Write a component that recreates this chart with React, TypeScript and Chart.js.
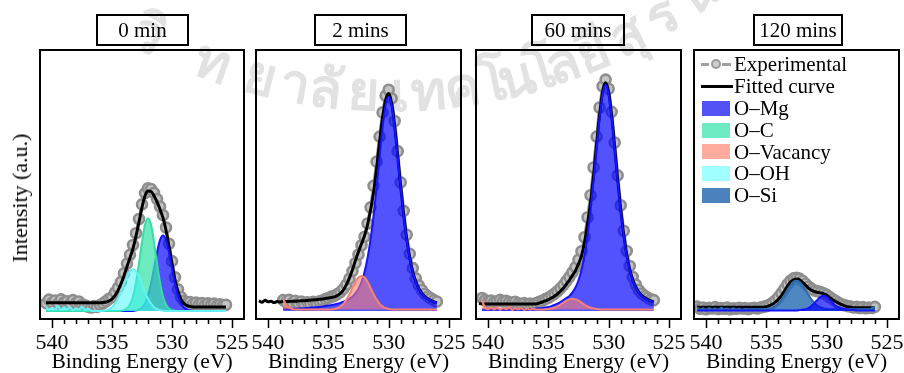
import React, { useEffect, useRef } from "react";
import { Chart, registerables } from "chart.js";

Chart.register(...registerables);

const SERIF = '"Liberation Serif", "Times New Roman", serif';
const _ = null;

// Binding energy grid (eV), shared by all panels
const ENERGY = [
  540.75, 540.5, 540.25, 540.0, 539.75, 539.5, 539.25, 539.0, 538.75, 538.5,
  538.25, 538.0, 537.75, 537.5, 537.25, 537.0, 536.75, 536.5, 536.25, 536.0,
  535.75, 535.5, 535.25, 535.0, 534.75, 534.5, 534.25, 534.0, 533.75, 533.5,
  533.25, 533.0, 532.75, 532.5, 532.25, 532.0, 531.75, 531.5, 531.25, 531.0,
  530.75, 530.5, 530.25, 530.0, 529.75, 529.5, 529.25, 529.0, 528.75, 528.5,
  528.25, 528.0, 527.75, 527.5, 527.25, 527.0, 526.75, 526.5, 526.25, 526.0,
  525.75, 525.5,
];
const X_TICK_LABELS = [540, 535, 530, 525];
const X_MINOR_TICKS = [540, 539, 538, 537, 536, 535, 534, 533, 532, 531, 530, 529, 528, 527, 526, 525];
const PANEL_TITLES = ["0 min", "2 mins", "60 mins", "120 mins"];
const LEGEND_LABELS = ["Experimental", "Fitted curve", "O\u2013Mg", "O\u2013C", "O\u2013Vacancy", "O\u2013OH", "O\u2013Si"];

// ---------- 0 min ----------
const P1_EXP = [
  _, 5.9, 7.2, 6.1, 6.9, 5.8, 7.3, 6.2, 6.6, 5.7,
  7.0, 6.0, 6.5, 5.4, 5.1, 4.6, 4.3, 4.8, 4.5, 5.2,
  5.8, 6.6, 7.5, 8.1, 9.9, 11.6, 13.8, 17.0, 20.6, 23.9,
  27.5, 31.9, 37.2, 42.6, 46.8, 48.6, 48.3, 46.9, 44.6, 41.8,
  38.6, 34.0, 28.0, 21.5, 15.5, 11.0, 8.2, 6.8, 6.1, 6.3,
  5.6, 6.1, 5.4, 5.9, 5.2, 5.8, 5.3, 5.7, 5.0, 5.5,
  5.1, 5.3,
];
const P1_FIT = [
  _, 6.0, 6.0, 6.0, 6.0, 6.0, 6.0, 6.0, 6.0, 6.0,
  6.0, 6.0, 6.0, 6.0, 6.0, 6.0, 6.0, 6.0, 6.0, 6.0,
  6.1, 6.3, 6.7, 7.4, 8.7, 10.6, 13.1, 16.1, 19.5, 22.8,
  26.2, 30.8, 36.0, 41.5, 45.8, 47.6, 47.4, 45.8, 43.5, 40.8,
  37.6, 33.0, 27.0, 20.6, 14.6, 10.2, 7.3, 5.7, 5.0, 4.7,
  4.5, 4.5, 4.5, 4.5, 4.5, 4.5, 4.5, 4.5, 4.5, 4.5,
  4.5, 4.5,
];
const P1_MG = [
  _, 3.0, 3.0, 3.0, 3.0, 3.0, 3.0, 3.0, 3.0, 3.0,
  3.0, 3.0, 3.0, 3.0, 3.0, 3.0, 3.0, 3.0, 3.0, 3.0,
  3.0, 3.0, 3.0, 3.0, 3.0, 3.0, 3.0, 3.0, 3.0, 3.0,
  3.0, 3.2, 3.5, 4.2, 5.8, 8.7, 13.1, 18.8, 24.7, 29.3,
  31.0, 29.3, 24.7, 18.8, 13.1, 8.7, 5.8, 4.2, 3.5, 3.2,
  3.0, 3.0, 3.0, 3.0, 3.0, 3.0, 3.0, 3.0, 3.0, 3.0,
  3.0, 3.0,
];
const P1_C = [
  _, 3.0, 3.0, 3.0, 3.0, 3.0, 3.0, 3.0, 3.0, 3.0,
  3.0, 3.0, 3.0, 3.0, 3.0, 3.0, 3.0, 3.0, 3.0, 3.0,
  3.0, 3.0, 3.0, 3.0, 3.0, 3.0, 3.1, 3.3, 3.9, 5.4,
  8.4, 13.6, 20.7, 28.7, 35.1, 37.5, 35.1, 28.7, 20.7, 13.6,
  8.4, 5.4, 3.9, 3.3, 3.1, 3.0, 3.0, 3.0, 3.0, 3.0,
  3.0, 3.0, 3.0, 3.0, 3.0, 3.0, 3.0, 3.0, 3.0, 3.0,
  3.0, 3.0,
];
const P1_OH = [
  _, 4.6, 3.4, 4.2, 3.6, 4.8, 3.3, 4.5, 3.6, 4.4,
  3.2, 4.0, 3.5, 4.6, 3.4, 3.8, 3.1, 3.0, 3.0, 3.0,
  3.1, 3.3, 3.7, 4.4, 5.7, 7.6, 10.1, 13.0, 15.8, 17.8,
  18.5, 17.8, 15.8, 13.0, 10.1, 7.6, 5.7, 4.4, 3.7, 3.3,
  3.1, 3.0, 3.0, 3.0, 3.0, 3.0, 3.0, 3.0, 3.0, 3.0,
  3.0, 3.0, 3.0, 3.0, 3.0, 3.0, 3.0, 3.0, 3.0, 3.0,
  3.0, 3.0,
];

// ---------- 2 mins ----------
const P2_EXP = [
  _, _, _, _, _, _, _, _, 7.0, 6.2,
  7.1, 6.0, 6.8, 5.9, 6.5, 5.6, 6.2, 5.8, 6.4, 6.0,
  6.6, 6.9, 7.4, 7.8, 8.3, 8.6, 9.3, 10.0, 11.2, 12.8,
  15.0, 17.8, 20.8, 24.0, 27.4, 30.6, 35.5, 41.5, 49.5, 58.5,
  67.8, 76.8, 83.0, 85.2, 82.0, 73.6, 62.4, 50.8, 40.2, 31.3,
  24.2, 18.9, 15.1, 12.5, 10.8, 9.4, 8.4, 7.7, 7.0, 6.5,
  _, _,
];
const P2_FIT = [
  6.8, 6.2, 7.0, 6.4, 6.6, 6.1, 6.5, 6.3, 6.6, 6.5,
  6.5, 6.6, 6.6, 6.7, 6.8, 6.8, 6.9, 7.0, 7.1, 7.2,
  7.3, 7.4, 7.6, 7.8, 8.0, 8.2, 8.75, 9.55, 10.85, 12.8,
  15.3, 18.35, 21.8, 25.0, 28.0, 31.0, 35.0, 40.5, 47.0, 56.0,
  66.0, 75.0, 81.5, 83.8, 80.2, 71.8, 60.7, 49.2, 38.7, 29.8,
  22.9, 17.6, 13.9, 11.4, 9.6, 8.3, 7.5, 6.9, 6.4, 6.0,
  _, _,
];
const P2_MG = [
  _, _, _, _, _, _, _, _, 3.7, 3.7,
  3.7, 3.8, 3.8, 3.9, 4.0, 4.0, 4.1, 4.2, 4.3, 4.4,
  4.5, 4.6, 4.8, 5.0, 5.2, 5.4, 5.7, 6.0, 6.4, 6.9,
  7.5, 8.3, 9.6, 11.3, 13.8, 17.5, 22.7, 29.6, 38.4, 48.9,
  60.3, 71.3, 79.5, 82.6, 79.5, 71.3, 60.3, 48.9, 38.4, 29.6,
  22.7, 17.5, 13.8, 11.3, 9.6, 8.3, 7.5, 6.9, 6.4, 6.0,
  _, _,
];
const P2_VAC = [
  _, _, _, _, _, _, _, _, 7.5, 5.2,
  4.3, 3.8, 3.5, 3.5, 3.5, 3.5, 3.5, 3.5, 3.5, 3.5,
  3.5, 3.5, 3.5, 3.5, 3.6, 3.75, 4.05, 4.65, 5.65, 7.2,
  9.2, 11.55, 13.8, 15.4, 16.0, 15.4, 13.8, 11.55, 9.2, 7.2,
  5.65, 4.65, 4.05, 3.75, 3.6, 3.5, 3.5, 3.5, 3.5, 3.5,
  3.5, 3.5, 3.5, 3.5, 3.5, 3.5, 3.5, 3.5, 3.5, 3.5,
  _, _,
];

// ---------- 60 mins ----------
const P3_EXP = [
  _, 7.8, 7.0, 6.4, 6.9, 6.2, 6.6, 7.1, 6.5, 6.8,
  6.2, 6.0, 6.4, 5.8, 5.6, 5.9, 5.4, 5.7, 5.5, 5.9,
  6.4, 6.8, 7.4, 7.9, 8.6, 9.4, 10.3, 11.4, 12.6, 14.1,
  15.6, 17.4, 19.3, 22.0, 25.2, 30.4, 37.8, 46.0, 56.3, 67.8,
  78.6, 86.5, 89.0, 85.6, 77.0, 65.6, 53.4, 42.3, 32.8, 25.3,
  19.7, 15.6, 12.8, 10.8, 9.5, 8.6, 7.9, 7.3, 7.0, _,
  _, _,
];
const P3_FIT = [
  5.8, 5.6, 5.6, 5.6, 5.6, 5.6, 5.6, 5.6, 5.6, 5.6,
  5.6, 5.6, 5.6, 5.6, 5.6, 5.6, 5.6, 5.6, 5.6, 5.6,
  6.0, 6.3, 6.7, 7.2, 7.8, 8.5, 9.3, 10.3, 11.5, 13.0,
  14.5, 16.2, 18.0, 20.5, 23.5, 28.5, 35.5, 43.5, 53.5, 65.0,
  76.1, 84.6, 87.8, 84.4, 75.6, 64.0, 51.8, 40.8, 31.4, 24.0,
  18.5, 14.6, 11.9, 10.0, 8.7, 7.9, 7.2, 6.7, 6.3, _,
  _, _,
];
const P3_MG = [
  _, 3.5, 3.5, 3.5, 3.5, 3.5, 3.5, 3.5, 3.5, 3.5,
  3.5, 3.5, 3.5, 3.5, 3.5, 3.6, 3.7, 3.7, 3.8, 3.9,
  4.0, 4.1, 4.3, 4.5, 4.8, 5.2, 5.7, 6.3, 7.0, 7.8,
  8.6, 9.9, 11.7, 14.4, 18.3, 23.7, 31.1, 40.4, 51.4, 63.5,
  75.0, 83.7, 87.0, 83.7, 75.0, 63.5, 51.4, 40.4, 31.1, 23.7,
  18.3, 14.4, 11.7, 9.9, 8.6, 7.8, 7.1, 6.6, 6.2, _,
  _, _,
];
const P3_VAC = [
  _, 7.0, 4.2, 3.6, 4.4, 3.5, 4.3, 3.4, 4.2, 3.6,
  4.5, 3.3, 4.1, 3.6, 4.0, 3.4, 3.9, 3.5, 3.8, 3.5,
  3.5, 3.5, 3.6, 3.7, 3.9, 4.2, 4.7, 5.3, 6.1, 6.8,
  7.3, 7.5, 7.3, 6.8, 6.1, 5.3, 4.7, 4.2, 3.9, 3.7,
  3.6, 3.5, 3.5, 3.5, 3.5, 3.5, 3.5, 3.5, 3.5, 3.5,
  3.5, 3.5, 3.5, 3.5, 3.5, 3.5, 3.5, 3.5, 3.5, _,
  _, _,
];

// ---------- 120 mins ----------
const P4_EXP = [
  4.6, 3.8, 4.3, 3.6, 4.2, 3.9, 4.4, 3.7, 4.1, 3.8,
  4.3, 3.6, 4.0, 3.8, 4.2, 3.9, 4.1, 3.7, 4.0, 4.2,
  3.9, 4.3, 4.5, 4.8, 5.3, 6.0, 6.9, 8.1, 9.6, 11.2,
  12.9, 14.2, 15.1, 15.3, 15.0, 14.2, 13.1, 12.1, 11.2, 10.6,
  10.3, 10.0, 9.6, 9.0, 8.2, 7.4, 6.7, 6.0, 5.5, 5.1,
  4.8, 4.6, 4.3, 4.5, 4.1, 4.4, 4.0, 4.3, 4.1, 4.5,
  _, _,
];
const P4_FIT = [
  4.4, 4.4, 4.4, 4.4, 4.4, 4.4, 4.4, 4.4, 4.4, 4.4,
  4.4, 4.4, 4.4, 4.4, 4.4, 4.4, 4.4, 4.4, 4.4, 4.4,
  4.4, 4.4, 4.4, 4.6, 5.0, 5.5, 6.3, 7.3, 8.7, 10.4,
  12.2, 13.7, 14.6, 14.9, 14.6, 13.6, 12.5, 11.5, 10.7, 10.2,
  9.9, 9.7, 9.4, 8.8, 8.0, 7.2, 6.5, 5.9, 5.3, 4.9,
  4.6, 4.4, 4.2, 4.2, 4.2, 4.2, 4.2, 4.2, 4.2, 4.2,
  _, _,
];
const P4_SI = [
  4.4, 3.4, 4.0, 3.2, 4.1, 3.5, 3.9, 3.3, 4.2, 3.6,
  3.9, 3.4, 4.0, 3.5, 3.8, 3.4, 3.7, 3.5, 3.6, 3.6,
  3.6, 3.6, 3.6, 3.7, 3.9, 4.3, 4.9, 5.8, 7.2, 8.9,
  10.8, 12.5, 13.8, 14.2, 13.8, 12.5, 10.8, 8.9, 7.2, 5.8,
  4.9, 4.3, 3.9, 3.7, 3.6, 3.6, 3.6, 3.6, 3.6, 3.6,
  3.6, 3.6, 3.6, 3.6, 3.6, 3.6, 3.6, 3.6, 4.0, 4.6,
  _, _,
];
const P4_MG = [
  3.2, 3.2, 3.2, 3.2, 3.2, 3.2, 3.2, 3.2, 3.2, 3.2,
  3.2, 3.2, 3.2, 3.2, 3.2, 3.2, 3.2, 3.2, 3.2, 3.2,
  3.2, 3.2, 3.2, 3.2, 3.2, 3.2, 3.2, 3.2, 3.2, 3.2,
  3.2, 3.2, 3.2, 3.2, 3.3, 3.4, 3.6, 4.0, 4.9, 6.0,
  7.2, 8.2, 8.6, 8.2, 7.2, 6.0, 4.9, 4.4, 4.0, 3.7,
  3.5, 3.4, 3.3, 3.2, 3.2, 3.2, 3.2, 3.2, 3.2, 3.2,
  _, _,
];

// ---------- styles ----------
const STYLE = {
  mg: { fill: "rgba(0,0,255,0.68)", line: "#1414ff", swatch: "#5252f5" },
  c: { fill: "rgba(60,228,168,0.75)", line: "#38dca8", swatch: "#6eebc4" },
  vac: { fill: "rgba(250,128,114,0.6)", line: "#fa8072", swatch: "#ffab9d" },
  oh: { fill: "rgba(60,245,245,0.5)", line: "#66f2f2", swatch: "#a0ffff" },
  si: { fill: "rgba(40,108,178,0.82)", line: "#2c6cae", swatch: "#4b82be" },
};

function pts(values: (number | null)[]) {
  const out: { x: number; y: number }[] = [];
  values.forEach((v, i) => {
    if (v !== null) out.push({ x: ENERGY[i], y: v });
  });
  return out;
}

function expDs(values: (number | null)[]) {
  return {
    label: "Experimental",
    data: pts(values),
    borderColor: "#9c9c9c",
    borderWidth: 3,
    pointRadius: 5,
    pointBorderWidth: 2.6,
    pointBorderColor: "#8e8e8e",
    pointBackgroundColor: "#c4c4c4",
    fill: false,
    order: 30,
  };
}
function fitDs(values: (number | null)[]) {
  return {
    label: "Fitted curve",
    data: pts(values),
    borderColor: "#000000",
    borderWidth: 3,
    pointRadius: 0,
    fill: false,
    cubicInterpolationMode: "monotone",
    order: 20,
  };
}
function compDs(label: string, values: (number | null)[], st: any, base: number, order: number) {
  return {
    label,
    data: pts(values),
    borderColor: st.line,
    backgroundColor: st.fill,
    borderWidth: 2,
    pointRadius: 0,
    fill: { value: base },
    cubicInterpolationMode: "monotone",
    order,
  };
}

const PANELS = [
  {
    left: 40,
    width: 204,
    datasets: () => [
      expDs(P1_EXP),
      fitDs(P1_FIT),
      compDs("O–Mg", P1_MG, STYLE.mg, 3.0, 12),
      compDs("O–C", P1_C, STYLE.c, 3.0, 11),
      compDs("O–OH", P1_OH, STYLE.oh, 3.0, 10),
    ],
  },
  {
    left: 256,
    width: 205,
    datasets: () => [
      expDs(P2_EXP),
      fitDs(P2_FIT),
      compDs("O–Mg", P2_MG, STYLE.mg, 3.0, 12),
      compDs("O–Vacancy", P2_VAC, STYLE.vac, 3.5, 11),
    ],
  },
  {
    left: 476,
    width: 205,
    datasets: () => [
      expDs(P3_EXP),
      fitDs(P3_FIT),
      compDs("O–Mg", P3_MG, STYLE.mg, 3.0, 12),
      compDs("O–Vacancy", P3_VAC, STYLE.vac, 3.5, 11),
    ],
  },
  {
    left: 694,
    width: 205,
    datasets: () => [
      expDs(P4_EXP),
      fitDs(P4_FIT),
      compDs("O–Si", P4_SI, STYLE.si, 3.0, 12),
      compDs("O–Mg", P4_MG, STYLE.mg, 3.0, 11),
    ],
  },
];

const PAD_L = 20;
const PAD_R = 20;
const H = 373;
const PLOT_TOP = 50;
const AXIS_H = 54;

const framePlugin = {
  id: "frameTicks",
  afterDraw(chart: any) {
    const { ctx, chartArea: a } = chart;
    const x = chart.scales.x;
    ctx.save();
    ctx.strokeStyle = "#000";
    ctx.lineWidth = 2;
    ctx.strokeRect(a.left, a.top, a.right - a.left, a.bottom - a.top);
    ctx.lineWidth = 1.5;
    for (const v of X_MINOR_TICKS) {
      const px = Math.round(x.getPixelForValue(v)) + 0.5;
      const len = v % 5 === 0 ? 9 : 5;
      ctx.beginPath();
      ctx.moveTo(px, a.bottom);
      ctx.lineTo(px, a.bottom + len);
      ctx.stroke();
    }
    ctx.restore();
  },
};

function Panel({ cfg }: { cfg: (typeof PANELS)[number] }) {
  const ref = useRef<HTMLCanvasElement>(null);
  useEffect(() => {
    const chart = new Chart(ref.current as HTMLCanvasElement, {
      type: "line",
      data: { datasets: cfg.datasets() as any },
      options: {
        animation: false,
        responsive: false,
        maintainAspectRatio: false,
        devicePixelRatio: 1,
        layout: { padding: { top: PLOT_TOP, left: PAD_L, right: PAD_R, bottom: 0 } },
        plugins: { legend: { display: false }, tooltip: { enabled: false } },
        scales: {
          x: {
            type: "linear",
            min: 524,
            max: 541,
            reverse: true,
            afterBuildTicks: (s: any) => {
              s.ticks = X_TICK_LABELS.map((v) => ({ value: v }));
            },
            afterFit: (s: any) => {
              s.height = AXIS_H;
            },
            grid: { display: true, drawOnChartArea: false, drawTicks: true, tickLength: 8, color: "rgba(0,0,0,0)" },
            border: { display: false },
            ticks: { color: "#000", font: { family: SERIF, size: 22 }, padding: 3, maxRotation: 0, autoSkip: false },
            title: {
              display: true,
              text: "Binding Energy (eV)",
              color: "#000",
              font: { family: SERIF, size: 21.5, lineHeight: 1.0 },
              padding: { top: 0, bottom: 0 },
            },
          },
          y: { display: false, min: 0, max: 100 },
        },
      } as any,
      plugins: [framePlugin],
    });
    return () => chart.destroy();
  }, []);
  const w = cfg.width + PAD_L + PAD_R;
  return (
    <canvas
      ref={ref}
      width={w}
      height={H}
      style={{ position: "absolute", left: cfg.left - PAD_L, top: 0, width: w, height: H }}
    />
  );
}

const WM_CLUSTERS = ["วิ", "ท", "ย", "า", "ลั", "ย", "เ", "ท", "ค", "โ", "น", "โ", "ล", "ยี", "สุ", "ร", "น"];
const WM_X = [150, 214, 262, 296, 326, 364, 400, 428, 462, 492, 516, 540, 562, 592, 626, 660, 696];

function Watermark() {
  const R = 520, cx = 390, cy = -430;
  return (
    <>
      {WM_CLUSTERS.map((ch, i) => {
        const dx = WM_X[i] - cx;
        const phi = Math.asin(dx / R);
        const y = cy + R * Math.cos(phi);
        return (
          <span
            key={i}
            style={{
              position: "absolute",
              left: WM_X[i],
              top: y,
              transform: `translate(-50%,-50%) rotate(${(-phi * 180) / Math.PI}deg)`,
              fontFamily: '"Noto Sans", "DejaVu Sans", sans-serif',
              fontWeight: 700,
              fontSize: 54,
              color: "#e2e2e2",
              whiteSpace: "nowrap",
              lineHeight: 1,
            }}
          >
            {ch}
          </span>
        );
      })}
    </>
  );
}

const BOX_LEFT = [96, 314, 531, 753];
const BOX_W = [93, 93, 94, 90];

function Legend() {
  const rowY = [64, 86, 108, 130, 151.5, 173, 195];
  const symL = 701;
  const textL = 734;
  const swatches = [STYLE.mg.swatch, STYLE.c.swatch, STYLE.vac.swatch, STYLE.oh.swatch, STYLE.si.swatch];
  return (
    <>
      <div style={{ position: "absolute", left: symL, top: rowY[0] - 1, width: 8, height: 2.5, background: "#a0a0a0" }} />
      <div style={{ position: "absolute", left: 722, top: rowY[0] - 1, width: 9, height: 2.5, background: "#a0a0a0" }} />
      <div
        style={{
          position: "absolute",
          left: 711,
          top: rowY[0] - 5,
          width: 10,
          height: 10,
          boxSizing: "border-box",
          borderRadius: "50%",
          border: "2.5px solid #9a9a9a",
          background: "#cfcfcf",
        }}
      />
      <div style={{ position: "absolute", left: symL, top: rowY[1] - 1.5, width: 32, height: 3, background: "#000" }} />
      {swatches.map((c, k) => (
        <div
          key={k}
          style={{ position: "absolute", left: 702, top: rowY[k + 2] - 7.5, width: 28, height: 15, background: c }}
        />
      ))}
      {LEGEND_LABELS.map((t, k) => (
        <div
          key={t}
          style={{
            position: "absolute",
            left: textL,
            top: rowY[k] - 12,
            height: 24,
            lineHeight: "24px",
            fontFamily: SERIF,
            fontSize: 21,
            color: "#000",
            whiteSpace: "nowrap",
          }}
        >
          {t}
        </div>
      ))}
    </>
  );
}

export default function App() {
  return (
    <div style={{ position: "fixed", left: 0, top: 0, width: 904, height: 373, background: "#fff", overflow: "hidden" }}>
      <Watermark />
      {PANELS.map((p, i) => (
        <Panel key={i} cfg={p} />
      ))}
      {PANEL_TITLES.map((t, i) => (
        <div
          key={t}
          style={{
            position: "absolute",
            left: BOX_LEFT[i],
            top: 14,
            width: BOX_W[i],
            height: 32,
            boxSizing: "border-box",
            border: "2px solid #000",
            display: "flex",
            alignItems: "center",
            justifyContent: "center",
            fontFamily: SERIF,
            fontSize: 21,
            color: "#000",
          }}
        >
          {t}
        </div>
      ))}
      <div
        style={{
          position: "absolute",
          left: 20,
          top: 198,
          transform: "translate(-50%,-50%) rotate(-90deg)",
          fontFamily: SERIF,
          fontSize: 22,
          color: "#000",
          whiteSpace: "nowrap",
        }}
      >
        Intensity (a.u.)
      </div>
      <Legend />
    </div>
  );
}
